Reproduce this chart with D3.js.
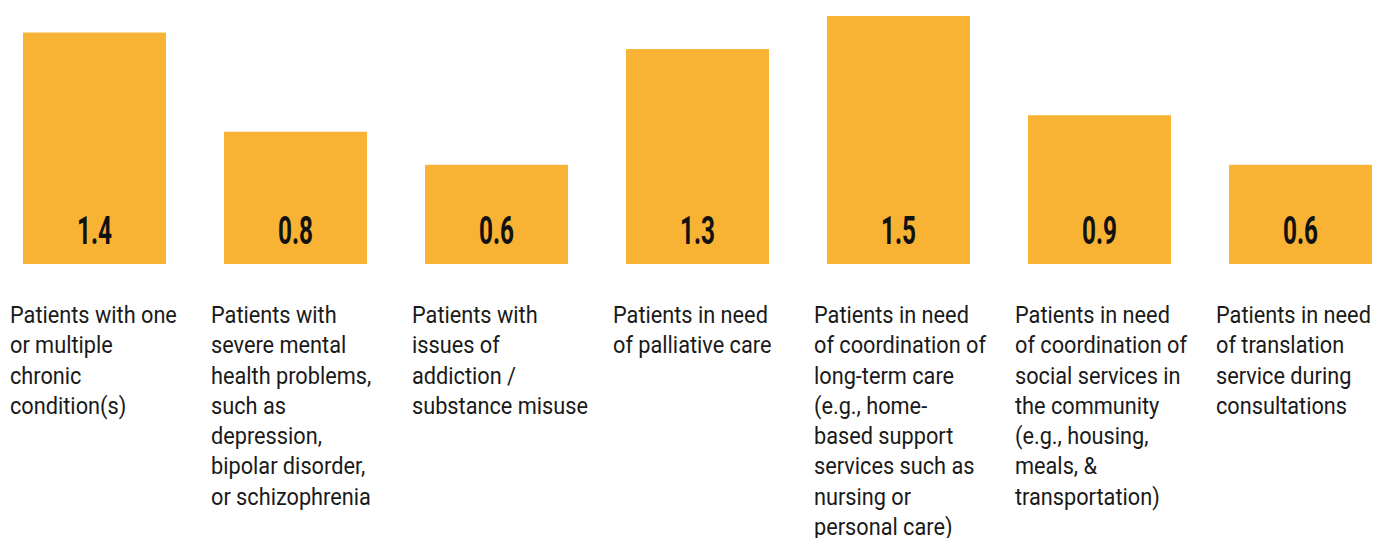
<!DOCTYPE html>
<html>
<head>
<meta charset="utf-8">
<script src="https://cdn.jsdelivr.net/npm/d3@7"></script>
<style>
  body { margin: 0; background: #fff; }
  .value { font-family: Roboto, "DejaVu Sans Condensed", sans-serif; font-weight: bold; }
  .label { font-family: Roboto, "DejaVu Sans Condensed", sans-serif; }
</style>
</head>
<body>
<div id="chart-area"></div>
<script>
// categories, wrapped the way the original lays them out
var categories = [
    ["Patients with one", "or multiple", "chronic", "condition(s)"],
    ["Patients with", "severe mental", "health problems,", "such as", "depression,", "bipolar disorder,", "or schizophrenia"],
    ["Patients with", "issues of", "addiction /", "substance misuse"],
    ["Patients in need", "of palliative care"],
    ["Patients in need", "of coordination of", "long-term care", "(e.g., home-", "based support", "services such as", "nursing or", "personal care)"],
    ["Patients in need", "of coordination of", "social services in", "the community", "(e.g., housing,", "meals, &", "transportation)"],
    ["Patients in need", "of translation", "service during", "consultations"]
];
var values = [1.4, 0.8, 0.6, 1.3, 1.5, 0.9, 0.6];

var width = 1375, height = 538;
var baseline = 264;

var svg = d3.select("#chart-area").append("svg")
    .attr("width", width)
    .attr("height", height);

var x = d3.scaleBand()
    .domain(d3.range(values.length))
    .range([23, 23 + 201 * 7 - 58])
    .paddingInner(58 / 201)
    .paddingOuter(0);

var y = d3.scaleLinear()
    .domain([0, 1.5])
    .range([baseline, 16]);

// the original uses a condensed face; squeeze a regular one to the same widths
function squeeze(cls, size, sample, target){
    var t = svg.append("text").attr("class", cls).attr("font-size", size).text(sample);
    var w = t.node().getComputedTextLength();
    t.remove();
    return target / w;
}
var labelSx = squeeze("label", 24, "Patients with one", 167);
var valueSx = squeeze("value", 38, "1.4", 35);

var groups = svg.selectAll("g.bar")
    .data(values)
    .enter()
    .append("g")
        .attr("class", "bar");

groups.append("rect")
    .attr("x", function(d, i){ return x(i); })
    .attr("y", function(d){ return y(d); })
    .attr("width", x.bandwidth())
    .attr("height", function(d){ return baseline - y(d); })
    .attr("fill", "#F8B334");

groups.append("text")
    .attr("class", "value")
    .attr("transform", function(d, i){
        return "translate(" + (x(i) + x.bandwidth() / 2) + ",244) scale(" + valueSx + ",1)";
    })
    .attr("text-anchor", "middle")
    .attr("font-size", 38)
    .attr("fill", "#111")
    .text(function(d){ return d.toFixed(1); });

var labels = svg.selectAll("text.label")
    .data(categories)
    .enter()
    .append("text")
        .attr("class", "label")
        .attr("font-size", 24)
        .attr("fill", "#1a1a1a")
        .attr("transform", function(d, i){
            return "translate(" + (x(i) - 13) + ",0) scale(" + labelSx + ",1)";
        });

labels.selectAll("tspan")
    .data(function(d){ return d; })
    .enter()
    .append("tspan")
        .attr("x", 0)
        .attr("y", function(d, j){ return 323 + j * 30.3; })
        .text(function(d){ return d; });
</script>
</body>
</html>
